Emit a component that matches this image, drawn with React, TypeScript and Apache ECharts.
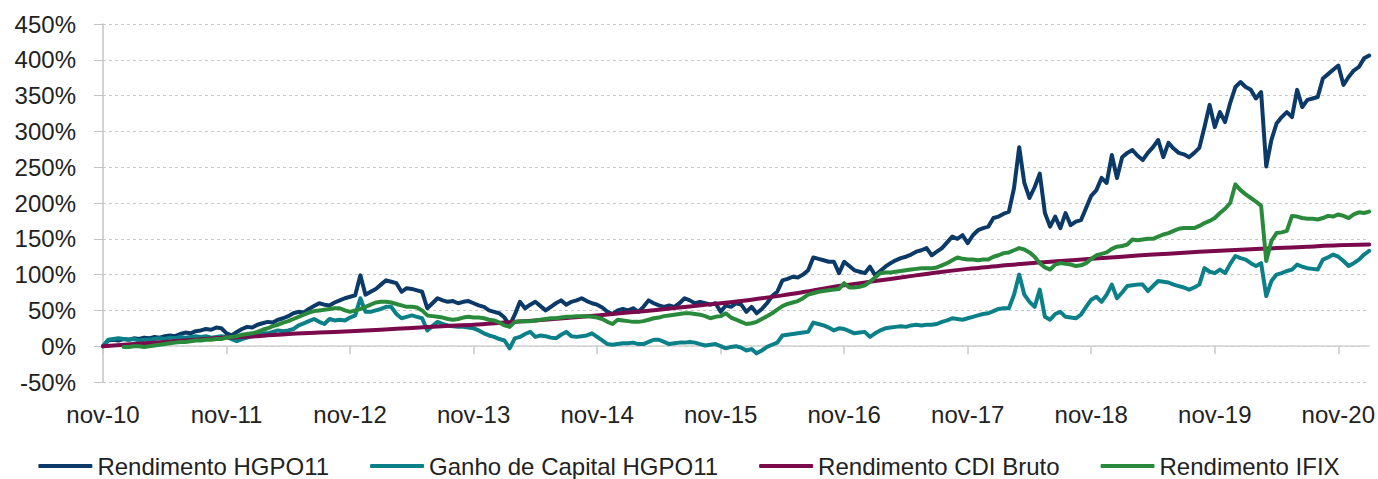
import React, { useEffect, useRef } from "react";
import * as echarts from "echarts";

// Portuguese month abbreviations for the category labels
const MONTHS = ["jan", "fev", "mar", "abr", "mai", "jun", "jul", "ago", "set", "out", "nov", "dez"];

// Semi-monthly sampling from 01/11/2010 to 01/02/2021 (247 points)
const POINTS = 247;
const categories: string[] = Array.from({ length: POINTS }, (_, i) => {
  const m = 10 + Math.floor(i / 2);
  const y = 2010 + Math.floor(m / 12);
  const mon = (m % 12) + 1;
  return `${y}-${String(mon).padStart(2, "0")}-${i % 2 === 0 ? "01" : "16"}`;
});

const seriesNames = [
  "Rendimento HGPO11",
  "Ganho de Capital HGPO11",
  "Rendimento CDI Bruto",
  "Rendimento IFIX",
];

// Rendimento HGPO11 (%), semi-monthly
const rendimentoHGPO11 = [
  0, 8, 9, 8, 10, 9, 11, 10, 12, 11, 13, 12, 14, 15, 14, 17, 19, 18, 21, 22, 24, 23, 26, 25,
  18, 15, 20, 24, 27, 26, 30, 32, 34, 33, 37, 39, 42, 46, 48, 47, 52, 56, 60, 58, 57, 61, 64, 67,
  69, 71, 99, 72, 76, 80, 86, 92, 90, 88, 76, 81, 80, 78, 76, 53, 60, 67, 64, 62, 63, 60, 62, 63,
  60, 57, 55, 50, 48, 46, 40, 29, 44, 62, 53, 58, 62, 56, 50, 55, 60, 64, 58, 62, 64, 67, 63, 60,
  58, 54, 48, 45, 50, 52, 50, 53, 48, 55, 64, 60, 57, 55, 57, 55, 60, 67, 64, 60, 62, 60, 58, 60,
  48, 57, 55, 60, 58, 48, 55, 46, 52, 60, 70, 76, 92, 94, 97, 96, 100, 106, 124, 122, 120, 118, 118, 102,
  118, 112, 106, 104, 102, 111, 99, 105, 111, 116, 120, 123, 125, 128, 132, 134, 137, 127, 132, 137, 145, 153, 150, 155,
  144, 155, 162, 165, 167, 179, 181, 185, 188, 221, 278, 228, 207, 222, 241, 186, 167, 181, 165, 186, 169, 174, 176, 193,
  210, 218, 235, 228, 267, 235, 264, 270, 274, 266, 260, 270, 278, 288, 264, 284, 276, 270, 268, 264, 270, 277, 306, 337,
  306, 327, 313, 340, 362, 369, 362, 358, 346, 355, 251, 288, 311, 320, 327, 320, 358, 334, 344, 346, 348, 374, 380, 386,
  392, 365, 376, 385, 390, 402, 406,
];

// Ganho de Capital HGPO11 (%), semi-monthly
const ganhoCapitalHGPO11 = [
  0, 9, 10, 11, 10, 9, 10, 8, 9, 9, 10, 11, 10, 12, 11, 13, 12, 13, 14, 13, 14, 12, 13, 14,
  13, 10, 7, 10, 12, 14, 16, 18, 18, 20, 22, 21, 22, 24, 29, 32, 35, 38, 34, 31, 38, 36, 37, 36,
  40, 43, 67, 48, 48, 50, 52, 55, 55, 45, 39, 41, 43, 41, 39, 22, 28, 34, 31, 29, 28, 27, 27, 26,
  25, 22, 18, 15, 13, 10, 8, -3, 11, 13, 17, 20, 13, 15, 14, 12, 11, 16, 20, 14, 13, 14, 15, 18,
  13, 8, 3, 2, 3, 4, 4, 5, 3, 3, 6, 9, 9, 6, 3, 4, 5, 5, 6, 5, 3, 1, 2, 3,
  0, -3, -1, 0, -2, -6, -4, -10, -6, -1, 2, 5, 15, 16, 17, 18, 19, 20, 33, 31, 29, 26, 22, 25,
  24, 21, 18, 19, 20, 13, 18, 22, 25, 26, 27, 28, 27, 29, 30, 29, 30, 30, 31, 34, 36, 39, 38, 37,
  39, 41, 43, 45, 46, 49, 52, 53, 53, 72, 100, 72, 62, 55, 79, 41, 37, 45, 48, 41, 40, 39, 44, 55,
  65, 69, 62, 72, 86, 67, 75, 84, 85, 86, 86, 77, 84, 91, 90, 89, 86, 84, 82, 79, 82, 86, 109, 104,
  102, 107, 102, 115, 126, 123, 121, 116, 112, 116, 70, 91, 100, 102, 105, 107, 114, 111, 109, 108, 107, 121, 124, 128,
  125, 119, 112, 116, 121, 128, 133,
];

// Rendimento CDI Bruto (%), quarterly (every 6th semi-monthly point)
const CDI_STEP = 6;
const rendimentoCDI = [
  0, 3, 6, 9, 12, 14, 17, 19, 21, 23, 25.5, 28, 30, 33, 36, 39.5, 43, 47, 51, 55.5, 60,
  65, 71, 78, 85, 91, 97, 103, 108, 112, 116, 119, 122, 125, 128, 130.5, 133, 135, 137, 139, 141, 142,
];

// Rendimento IFIX (%), semi-monthly, starting at the 5th point
const IFIX_START = 4;
const rendimentoIFIX = [
  -1, -1, 0, 0, -1, 0, 1, 2, 3, 4, 5, 6, 6, 7, 8, 8, 9, 9, 10, 10,
  12, 13, 14, 16, 17, 18, 20, 23, 25, 28, 30, 33, 35, 38, 41, 44, 47, 49, 50, 51, 52, 53, 53, 50,
  48, 50, 52, 55, 58, 61, 62, 62, 61, 59, 57, 55, 55, 54, 50, 43, 42, 41, 40, 38, 37, 38, 40, 41,
  40, 40, 39, 37, 36, 33, 29, 27, 34, 35, 35, 35, 36, 37, 38, 39, 39, 40, 41, 41, 42, 42, 42, 41,
  40, 38, 34, 31, 37, 36, 35, 34, 34, 35, 37, 39, 40, 42, 43, 44, 45, 46, 46, 45, 44, 42, 39, 41,
  42, 46, 40, 37, 34, 31, 32, 34, 38, 42, 46, 51, 56, 59, 61, 63, 67, 72, 74, 76, 77, 78, 79, 80,
  88, 82, 82, 83, 85, 90, 96, 102, 103, 103, 104, 105, 106, 107, 108, 109, 109, 109, 110, 113, 116, 120, 124, 122,
  121, 121, 120, 121, 121, 125, 127, 130, 131, 134, 137, 135, 131, 125, 116, 110, 107, 114, 116, 115, 114, 112, 113, 116,
  122, 127, 129, 131, 136, 139, 140, 142, 149, 148, 149, 150, 150, 153, 156, 158, 161, 164, 165, 165, 165, 168, 172, 175,
  179, 186, 192, 200, 226, 218, 212, 207, 202, 196, 119, 147, 158, 159, 161, 182, 181, 179, 178, 178, 177, 179, 182, 181,
  184, 182, 179, 184, 187, 186, 188,
];

const colors = ["#0b3a69", "#0c8088", "#7a0a4c", "#2a8a3b"];

const isNovember = (index: number) => index % 24 === 0;
const labelFormatter = (v: string) => {
  const [y, m] = v.split("-");
  return `${MONTHS[Number(m) - 1]}-${y.slice(2)}`;
};

export default function App() {
  const ref = useRef<HTMLDivElement>(null);

  useEffect(() => {
    if (!ref.current) return;
    const chart = echarts.init(ref.current, undefined, { renderer: "svg" });

    const lineSeries = (name: string, data: any[], color: string, width: number, extra: any = {}) => ({
      name,
      type: "line",
      data,
      symbol: "none",
      color,
      lineStyle: { color, width, cap: "round", join: "round" },
      emphasis: { disabled: true },
      ...extra,
    });

    chart.setOption({
      animation: false,
      backgroundColor: "#ffffff",
      textStyle: { fontFamily: "'Liberation Sans', Arial, sans-serif" },
      grid: { left: 103, right: 8, top: 24, bottom: 97, containLabel: false },
      legend: {
        data: seriesNames,
        left: "center",
        top: 454,
        padding: 0,
        icon: "roundRect",
        itemWidth: 54,
        itemHeight: 4,
        itemGap: 41,
        textStyle: {
          fontFamily: "'Liberation Sans', Arial, sans-serif",
          fontSize: 24,
          color: "#222222",
        },
      },
      xAxis: [
        {
          type: "category",
          data: categories,
          boundaryGap: false,
          axisLine: { show: true, onZero: true, lineStyle: { color: "#d2d2d2", width: 1.5 } },
          axisTick: { show: true, interval: isNovember, length: 8, lineStyle: { color: "#c8c8c8", width: 1.5 } },
          axisLabel: { show: false },
          splitLine: { show: false },
        },
        {
          type: "category",
          data: categories,
          boundaryGap: false,
          position: "bottom",
          axisLine: { show: false, onZero: false },
          axisTick: { show: false },
          axisLabel: {
            interval: isNovember,
            formatter: labelFormatter,
            margin: 20,
            fontSize: 24,
            color: "#222222",
          },
          splitLine: { show: false },
        },
      ],
      yAxis: {
        type: "value",
        min: -50,
        max: 450,
        interval: 50,
        axisLine: { show: true, lineStyle: { color: "#c4c4c4", width: 1.5 } },
        axisTick: { show: true, length: 9, lineStyle: { color: "#c4c4c4" } },
        axisLabel: { formatter: "{value}%", fontSize: 24, color: "#222222", margin: 27 },
        splitLine: { show: true, lineStyle: { color: "#c8c8c8", width: 1, type: [3, 3] } },
      },
      series: [
        lineSeries(seriesNames[0], rendimentoHGPO11.map((v, i) => [i, v]), colors[0], 4),
        lineSeries(seriesNames[1], ganhoCapitalHGPO11.map((v, i) => [i, v]), colors[1], 4),
        lineSeries(seriesNames[2], rendimentoCDI.map((v, i) => [i * CDI_STEP, v]), colors[2], 4, { smooth: 0.3 }),
        lineSeries(seriesNames[3], rendimentoIFIX.map((v, i) => [i + IFIX_START, v]), colors[3], 4),
      ],
    });

    return () => chart.dispose();
  }, []);

  return (
    <div
      ref={ref}
      style={{ position: "fixed", left: 0, top: 0, width: 1378, height: 479, background: "#fff" }}
    />
  );
}
